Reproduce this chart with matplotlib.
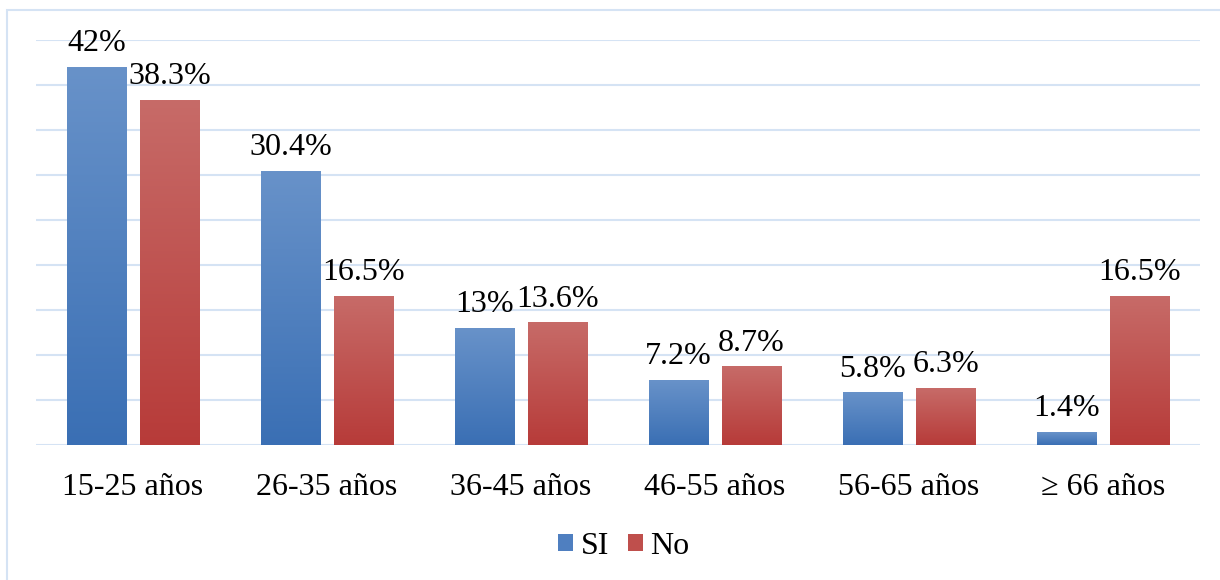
import numpy as np
import matplotlib
matplotlib.use("Agg")
import matplotlib.pyplot as plt
from matplotlib.patches import Rectangle, Patch
from matplotlib.colors import LinearSegmentedColormap

# datos
categorias = ["15-25 años", "26-35 años", "36-45 años", "46-55 años", "56-65 años", "\u2265 66 años"]
si = [42, 30.4, 13, 7.2, 5.8, 1.4]
no = [38.3, 16.5, 13.6, 8.7, 6.3, 16.5]
etiquetas_si = ["42%", "30.4%", "13%", "7.2%", "5.8%", "1.4%"]
etiquetas_no = ["38.3%", "16.5%", "13.6%", "8.7%", "6.3%", "16.5%"]

plt.rcParams['font.family'] = ['Liberation Serif', 'DejaVu Serif']

fig = plt.figure(figsize=(12.2, 5.8), dpi=100)
ax = fig.add_axes([36/1220, 1-445/580, 1164/1220, 405/580])

# marco exterior
fig.patches.append(Rectangle((7/1220, -0.2), 1.2, 1.2-10/580, transform=fig.transFigure,
                             fill=False, edgecolor='#D5E3F4', linewidth=1.5, zorder=0))

x = np.arange(len(categorias))
w = 60/194
gap = 13/194

cmap_azul = LinearSegmentedColormap.from_list("azul", ["#3A6FB4", "#6892C9"])
cmap_rojo = LinearSegmentedColormap.from_list("rojo", ["#B73B39", "#C76B68"])
grad = np.linspace(0, 1, 256).reshape(-1, 1)

def barra_grad(x0, h, cmap):
    ax.imshow(grad, extent=(x0, x0 + w, 0, h), origin='lower', aspect='auto',
              cmap=cmap, zorder=2)

for i in range(len(categorias)):
    xs = x[i] - gap/2 - w
    xn = x[i] + gap/2
    barra_grad(xs, si[i], cmap_azul)
    barra_grad(xn, no[i], cmap_rojo)
    ax.text(xs + w/2, si[i] + 1.0, etiquetas_si[i], ha='center', va='bottom', fontsize=23)
    ax.text(xn + w/2, no[i] + 1.0, etiquetas_no[i], ha='center', va='bottom', fontsize=23)

ax.set_xlim(-0.5, len(categorias) - 0.5)
ax.set_ylim(0, 45)
ax.set_yticks(np.arange(0, 46, 5))
ax.set_yticklabels([])
ax.tick_params(axis='y', length=0)
ax.grid(axis='y', color='#D5E3F4', linewidth=1.5, zorder=0)
ax.set_axisbelow(True)
ax.set_xticks(x)
ax.set_xticklabels(categorias, fontsize=23)
ax.tick_params(axis='x', length=0, pad=20)
for s in ax.spines.values():
    s.set_visible(False)

handles = [Patch(facecolor='#4F7FC0', label='SI'), Patch(facecolor='#BF4F4C', label='No')]
fig.legend(handles=handles, loc='center', bbox_to_anchor=(624/1220, 1-546/580), ncol=2,
           frameon=False, fontsize=23, handlelength=0.45, handleheight=0.45,
           handletextpad=0.25, columnspacing=0.6)

fig.savefig("out.png", dpi=100)
